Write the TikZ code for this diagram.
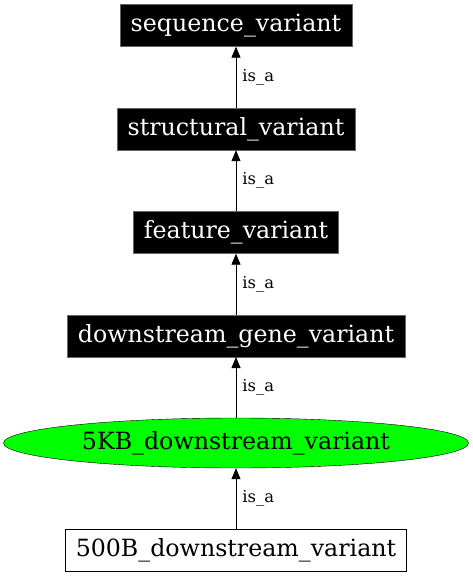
\documentclass[tikz,border=0pt]{standalone}
\usepackage{fontspec}
\setmainfont{DejaVu Serif}
\usetikzlibrary{shapes.geometric,arrows.meta}
\begin{document}
\begin{tikzpicture}[x=1bp,y=-1bp,
  base/.style={inner sep=0pt, font=\fontsize{23.8}{28}\selectfont, minimum height=42bp},
  blackbox/.style={base, rectangle, fill=black, draw=black!60, text=white},
  greenell/.style={base, ellipse, fill=green, draw=black, minimum height=50bp},
  whitebox/.style={base, rectangle, fill=white, draw=black},
  isa/.style={draw=black, line width=0.8bp, -{Triangle[length=11bp,width=9bp]}},
  lbl/.style={font=\fontsize{16.5}{19}\selectfont, anchor=west, inner sep=0pt}
]
\useasboundingbox (0,0) rectangle (473,576);
\node[blackbox, minimum width=232bp] (seq) at (236,25.5) {sequence\_variant};
\node[blackbox, minimum width=238bp] (str) at (236,129) {structural\_variant};
\node[blackbox, minimum width=205bp] (feat) at (236,232.5) {feature\_variant};
\node[blackbox, minimum width=338bp] (dgv) at (236,335.8) {downstream\_gene\_variant};
\node[greenell, minimum width=465bp] (fkb) at (236,443) {5KB\_downstream\_variant};
\node[whitebox, minimum width=341bp] (fhb) at (236,550) {500B\_downstream\_variant};
\draw[isa] (str) -- node[lbl, xshift=6bp] {is\_a} (seq);
\draw[isa] (feat) -- node[lbl, xshift=6bp] {is\_a} (str);
\draw[isa] (dgv) -- node[lbl, xshift=6bp] {is\_a} (feat);
\draw[isa] (fkb) -- node[lbl, xshift=6bp] {is\_a} (dgv);
\draw[isa] (fhb) -- node[lbl, xshift=6bp] {is\_a} (fkb);
\end{tikzpicture}
\end{document}
